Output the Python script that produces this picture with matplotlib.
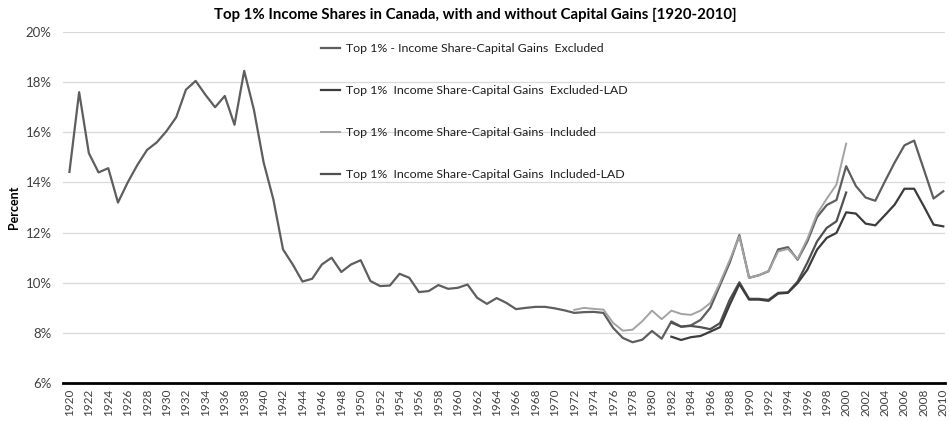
import numpy as np
import matplotlib
matplotlib.use("Agg")
import matplotlib.pyplot as plt
from matplotlib.ticker import FuncFormatter

plt.rcParams['font.family'] = ['Lato', 'DejaVu Sans']

# capital gains excluded, 1920-2010
years = np.arange(1920, 2011)
excluded = [
    14.42, 17.6, 15.17, 14.4, 14.57, 13.2, 14.0, 14.7, 15.3, 15.6,
    16.05, 16.6, 17.7, 18.05, 17.5, 17.0, 17.45, 16.3, 18.45, 16.9,
    14.8, 13.33, 11.33, 10.73, 10.05, 10.16, 10.73, 11.0, 10.43, 10.73,
    10.9, 10.07, 9.87, 9.89, 10.36, 10.2, 9.63, 9.67, 9.91, 9.76,
    9.8, 9.93, 9.4, 9.16, 9.39, 9.2, 8.95, 9.0, 9.04, 9.04,
    8.98, 8.9, 8.8, 8.83, 8.84, 8.8, 8.2, 7.8, 7.63, 7.73,
    8.08, 7.77, 8.46, 8.25, 8.3, 8.52, 9.0, 9.9, 10.8, 11.9,
    10.2, 10.3, 10.46, 11.33, 11.42, 10.92, 11.65, 12.62, 13.1, 13.3,
    14.65, 13.86, 13.4, 13.27, 14.05, 14.8, 15.48, 15.67, 14.52, 13.36,
    13.65,
]

# capital gains included, 1972-2000
years_incl = np.arange(1972, 2001)
included = [
    8.92, 9.0, 8.96, 8.93, 8.4, 8.09, 8.13, 8.47, 8.89, 8.55,
    8.89, 8.76, 8.72, 8.89, 9.19, 10.0, 10.9, 11.85, 10.2, 10.3,
    10.47, 11.25, 11.35, 10.95, 11.75, 12.75, 13.35, 13.92, 15.55,
]

# LAD series
years_excl_lad = np.arange(1982, 2011)
excluded_lad = [
    7.85, 7.72, 7.83, 7.88, 8.05, 8.23, 9.12, 9.95, 9.33, 9.33,
    9.28, 9.57, 9.6, 9.99, 10.52, 11.32, 11.79, 11.99, 12.81, 12.76,
    12.36, 12.29, 12.7, 13.12, 13.75, 13.75, 13.05, 12.32, 12.25,
]
years_incl_lad = np.arange(1982, 2001)
included_lad = [
    8.41, 8.25, 8.28, 8.23, 8.15, 8.39, 9.32, 10.02, 9.36, 9.36,
    9.32, 9.6, 9.62, 10.05, 10.8, 11.65, 12.19, 12.45, 13.6,
]

labels = [
    "Top 1% - Income Share-Capital Gains  Excluded",
    "Top 1%  Income Share-Capital Gains  Excluded-LAD",
    "Top 1%  Income Share-Capital Gains  Included",
    "Top 1%  Income Share-Capital Gains  Included-LAD",
]

fig = plt.figure(figsize=(9.49, 4.21), dpi=100)
ax = fig.add_axes([0.066, 0.090, 0.930, 0.834])

l1, = ax.plot(years, excluded, color="#5e5e5e", lw=1.6, label=labels[0])
l3, = ax.plot(years_incl, included, color="#a3a3a3", lw=1.4, label=labels[2])
l4, = ax.plot(years_incl_lad, included_lad, color="#505050", lw=1.6, label=labels[3])
l2, = ax.plot(years_excl_lad, excluded_lad, color="#3c3c3c", lw=1.6, label=labels[1])

ax.set_xlim(1919.3, 2010.2)
ax.set_ylim(6, 20)
ax.set_yticks(np.arange(6, 21, 2))
ax.yaxis.set_major_formatter(FuncFormatter(lambda v, p: f"{v:.0f}%"))
ax.set_xticks(np.arange(1920, 2011, 2))
ax.tick_params(axis="x", rotation=90, length=0, labelsize=8.5, colors="#404040", pad=4)
ax.tick_params(axis="y", length=0, labelsize=9.5, colors="#404040", pad=8)
ax.grid(axis="y", color="#d9d9d9", lw=0.9)
ax.set_axisbelow(True)
for s in ["top", "right", "left"]:
    ax.spines[s].set_visible(False)
ax.spines["bottom"].set_color("black")
ax.spines["bottom"].set_linewidth(2)

ax.set_ylabel("Percent", fontsize=9, fontweight="bold", labelpad=4)
fig.text(475 / 949, 1 - 15 / 421,
         "Top 1% Income Shares in Canada, with and without Capital Gains [1920-2010]",
         ha="center", va="center", fontsize=10.8, fontweight="bold")

ax.legend([l1, l2, l3, l4], labels, loc="upper left",
          bbox_to_anchor=(310 / 949, 1 - 32 / 421), bbox_transform=fig.transFigure,
          frameon=False, fontsize=8.9, labelspacing=2.5, handlelength=1.5,
          handletextpad=0.55, labelcolor="#1f1f1f")

fig.savefig("out.png", dpi=100)
